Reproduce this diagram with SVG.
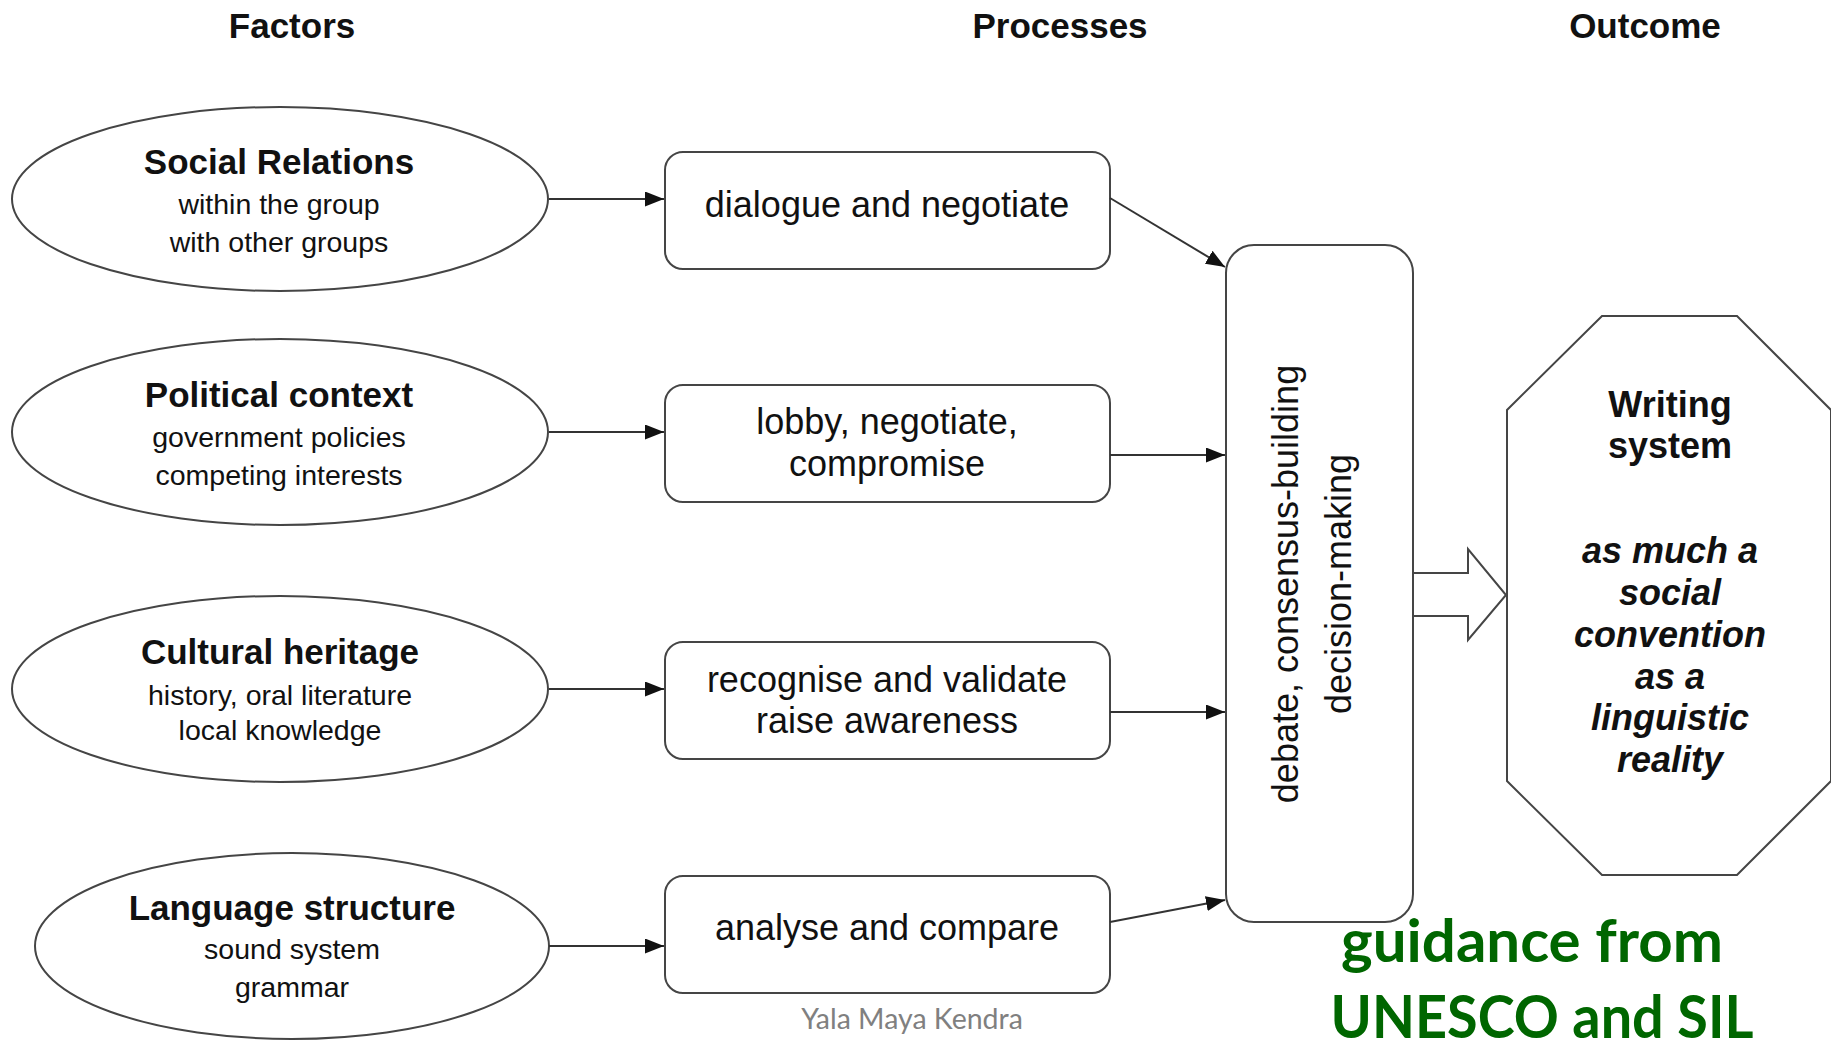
<svg xmlns="http://www.w3.org/2000/svg" width="1831" height="1040" viewBox="0 0 1831 1040">
  <style>
    .shape { fill: #ffffff; stroke: #454545; stroke-width: 2; }
    .conn { fill: none; stroke: #333333; stroke-width: 2; }
    .hdr { font-family: "Liberation Sans", Arial, sans-serif; font-weight: bold; font-size: 35px; fill: #111111; text-anchor: middle; }
    .title { font-family: "Liberation Sans", Arial, sans-serif; font-weight: bold; font-size: 35px; fill: #111111; text-anchor: middle; }
    .sub { font-family: "Liberation Sans", Arial, sans-serif; font-size: 28.5px; fill: #111111; text-anchor: middle; }
    .proc { font-family: "Liberation Sans", Arial, sans-serif; font-size: 36px; fill: #111111; text-anchor: middle; }
    .out { font-family: "Liberation Sans", Arial, sans-serif; font-weight: bold; font-size: 36px; fill: #111111; text-anchor: middle; }
    .outi { font-style: italic; }
    .green { font-family: Lato, "Open Sans", sans-serif; font-weight: bold; font-size: 60px; fill: #006600; text-anchor: middle; }
    .credit { font-family: Lato, "Open Sans", sans-serif; font-size: 28.5px; fill: #808080; text-anchor: middle; }
  </style>
  <defs>
    <marker id="arrow" viewBox="0 0 19 15" refX="19" refY="7.5" markerWidth="19" markerHeight="15" markerUnits="userSpaceOnUse" orient="auto">
      <path d="M0,0 L19,7.5 L0,15 z" fill="#111111"/>
    </marker>
  </defs>

  <rect width="1831" height="1040" fill="#ffffff"/>

  <!-- column headings -->
  <g id="headings">
    <text class="hdr" x="292" y="38">Factors</text>
    <text class="hdr" x="1060" y="38">Processes</text>
    <text class="hdr" x="1645" y="38">Outcome</text>
  </g>

  <!-- factors -->
  <g id="factor-social">
    <ellipse class="shape" cx="280" cy="199" rx="268" ry="92"/>
    <text class="title" x="279" y="174">Social Relations</text>
    <text class="sub" x="279" y="214">within the group</text>
    <text class="sub" x="279" y="252">with other groups</text>
  </g>
  <g id="factor-political">
    <ellipse class="shape" cx="280" cy="432" rx="268" ry="93"/>
    <text class="title" x="279" y="407">Political context</text>
    <text class="sub" x="279" y="447">government policies</text>
    <text class="sub" x="279" y="485">competing interests</text>
  </g>
  <g id="factor-cultural">
    <ellipse class="shape" cx="280" cy="689" rx="268" ry="93"/>
    <text class="title" x="280" y="664">Cultural heritage</text>
    <text class="sub" x="280" y="705">history, oral literature</text>
    <text class="sub" x="280" y="740">local knowledge</text>
  </g>
  <g id="factor-language">
    <ellipse class="shape" cx="292" cy="946" rx="257" ry="93"/>
    <text class="title" x="292" y="920">Language structure</text>
    <text class="sub" x="292" y="959">sound system</text>
    <text class="sub" x="292" y="997">grammar</text>
  </g>

  <!-- processes -->
  <g id="proc-dialogue">
    <rect class="shape" x="665" y="152" width="445" height="117" rx="18"/>
    <text class="proc" x="887" y="217">dialogue and negotiate</text>
  </g>
  <g id="proc-lobby">
    <rect class="shape" x="665" y="385" width="445" height="117" rx="18"/>
    <text class="proc" x="887" y="434">lobby, negotiate,</text>
    <text class="proc" x="887" y="476">compromise</text>
  </g>
  <g id="proc-recognise">
    <rect class="shape" x="665" y="642" width="445" height="117" rx="18"/>
    <text class="proc" x="887" y="692">recognise and validate</text>
    <text class="proc" x="887" y="733">raise awareness</text>
  </g>
  <g id="proc-analyse">
    <rect class="shape" x="665" y="876" width="445" height="117" rx="18"/>
    <text class="proc" x="887" y="940">analyse and compare</text>
  </g>

  <!-- decision stage -->
  <g id="decision">
    <rect class="shape" x="1226" y="245" width="187" height="677" rx="28"/>
    <text class="proc" transform="translate(1298,584) rotate(-90)">debate, consensus-building</text>
    <text class="proc" transform="translate(1351,584) rotate(-90)">decision-making</text>
  </g>

  <!-- outcome -->
  <g id="outcome">
    <polygon class="shape" points="1602,316 1737,316 1831,410 1831,781 1737,875 1602,875 1507,781 1507,410"/>
    <text class="out" x="1670" y="417">Writing</text>
    <text class="out" x="1670" y="458">system</text>
    <text class="out outi" x="1670" y="563">as much a</text>
    <text class="out outi" x="1670" y="605">social</text>
    <text class="out outi" x="1670" y="647">convention</text>
    <text class="out outi" x="1670" y="689">as a</text>
    <text class="out outi" x="1670" y="730">linguistic</text>
    <text class="out outi" x="1670" y="772">reality</text>
  </g>

  <!-- connectors -->
  <g id="connectors">
    <line class="conn" x1="549" y1="199" x2="664" y2="199" marker-end="url(#arrow)"/>
    <line class="conn" x1="549" y1="432" x2="664" y2="432" marker-end="url(#arrow)"/>
    <line class="conn" x1="549" y1="689" x2="664" y2="689" marker-end="url(#arrow)"/>
    <line class="conn" x1="549" y1="946" x2="664" y2="946" marker-end="url(#arrow)"/>
    <line class="conn" x1="1110" y1="198" x2="1225" y2="267" marker-end="url(#arrow)"/>
    <line class="conn" x1="1110" y1="455" x2="1225" y2="455" marker-end="url(#arrow)"/>
    <line class="conn" x1="1110" y1="712" x2="1225" y2="712" marker-end="url(#arrow)"/>
    <line class="conn" x1="1110" y1="922" x2="1225" y2="900" marker-end="url(#arrow)"/>
    <polygon class="shape" points="1413,573 1468,573 1468,549 1506,595 1468,640 1468,616 1413,616"/>
  </g>

  <!-- notes -->
  <g id="notes">
    <text class="green" x="1532" y="962">guidance from</text>
    <text class="green" x="1542" y="1038" textLength="423" lengthAdjust="spacingAndGlyphs">UNESCO and SIL</text>
    <text class="credit" x="912" y="1029">Yala Maya Kendra</text>
  </g>
</svg>
